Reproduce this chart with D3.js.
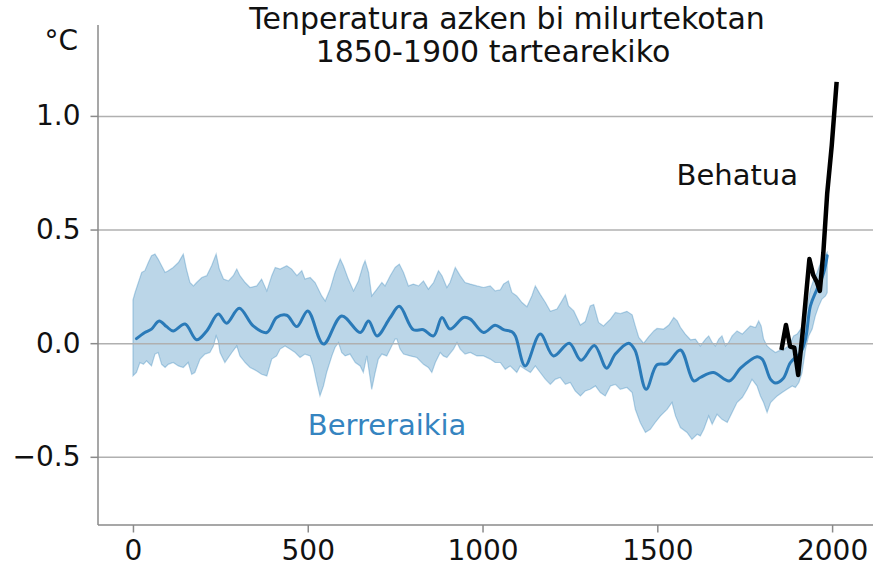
<!DOCTYPE html>
<html><head><meta charset="utf-8">
<script src="https://cdn.jsdelivr.net/npm/d3@7"></script>
<style>
html,body{margin:0;padding:0;background:#fff;}
text{font-family:"DejaVu Sans",sans-serif;}
</style></head>
<body><svg id="c" width="888" height="583"></svg>
<script>
// Reconstruction mean (year, °C)
const reconMean = [[10,0.02],[34,0.047],[53,0.062],[75,0.098],[96,0.073],[115,0.054],[149,0.084],[182,0.015],[211,0.054],[244,0.128],[268,0.088],[304,0.154],[344,0.076],[383,0.047],[411,0.113],[440,0.123],[469,0.073],[500,0.142],[545,-0.004],[597,0.12],[650,0.047],[674,0.098],[698,0.032],[736,0.113],[762,0.162],[802,0.059],[831,0.059],[860,0.032],[884,0.113],[907,0.062],[946,0.113],[965,0.106],[1003,0.047],[1036,0.079],[1060,0.06],[1084,0.05],[1094,0.032],[1122,-0.1],[1165,0.04],[1203,-0.056],[1248,0.0],[1282,-0.075],[1320,-0.01],[1355,-0.11],[1380,-0.048],[1418,0.0],[1436,-0.03],[1468,-0.203],[1499,-0.095],[1528,-0.09],[1566,-0.03],[1604,-0.166],[1623,-0.151],[1660,-0.129],[1706,-0.166],[1738,-0.11],[1785,-0.06],[1800,-0.07],[1824,-0.159],[1838,-0.175],[1860,-0.155],[1881,-0.085],[1910,-0.041],[1924,0.018],[1938,0.164],[1957,0.238],[1976,0.31],[1986,0.385]];

// Uncertainty band, upper edge
const bandUpper = [[0,0.19],[6,0.223],[25,0.311],[34,0.319],[44,0.355],[53,0.385],[63,0.392],[72,0.37],[82,0.341],[92,0.311],[101,0.319],[115,0.333],[130,0.355],[144,0.392],[153,0.326],[163,0.267],[173,0.252],[182,0.267],[197,0.289],[211,0.297],[225,0.341],[238,0.392],[247,0.326],[259,0.282],[273,0.274],[287,0.297],[297,0.326],[306,0.297],[321,0.267],[335,0.245],[354,0.252],[368,0.282],[383,0.23],[397,0.297],[407,0.333],[421,0.326],[440,0.341],[454,0.326],[469,0.297],[483,0.319],[492,0.282],[507,0.289],[521,0.267],[540,0.208],[550,0.186],[564,0.238],[578,0.311],[593,0.37],[602,0.341],[616,0.282],[631,0.23],[645,0.274],[658,0.341],[664,0.363],[674,0.311],[683,0.208],[698,0.238],[712,0.267],[721,0.252],[736,0.297],[750,0.333],[762,0.348],[774,0.311],[788,0.252],[802,0.26],[817,0.252],[831,0.274],[845,0.238],[860,0.267],[874,0.319],[884,0.297],[898,0.245],[907,0.267],[922,0.333],[936,0.297],[950,0.267],[965,0.26],[984,0.252],[1003,0.245],[1022,0.252],[1036,0.23],[1051,0.235],[1060,0.26],[1074,0.274],[1084,0.223],[1098,0.208],[1113,0.179],[1127,0.16],[1141,0.208],[1151,0.252],[1165,0.215],[1180,0.179],[1194,0.14],[1213,0.15],[1227,0.186],[1237,0.213],[1246,0.164],[1261,0.142],[1280,0.08],[1294,0.095],[1308,0.164],[1318,0.17],[1332,0.091],[1346,0.076],[1366,0.106],[1380,0.135],[1394,0.13],[1413,0.14],[1428,0.125],[1437,0.076],[1447,0.025],[1461,0.0],[1475,0.028],[1490,0.054],[1499,0.065],[1518,0.062],[1533,0.08],[1547,0.113],[1557,0.098],[1566,0.07],[1580,0.04],[1595,0.015],[1609,0.018],[1623,-0.012],[1638,0.018],[1647,0.032],[1657,0.003],[1666,-0.012],[1676,0.018],[1685,0.032],[1695,-0.012],[1704,0.003],[1714,0.032],[1728,0.054],[1743,0.04],[1757,0.062],[1766,0.076],[1781,0.069],[1790,0.098],[1797,0.076],[1804,0.018],[1814,-0.012],[1824,-0.026],[1838,-0.041],[1847,-0.034],[1862,-0.026],[1876,-0.012],[1890,0.032],[1900,0.04],[1910,0.062],[1919,0.091],[1929,0.164],[1938,0.238],[1948,0.282],[1957,0.311],[1971,0.37],[1986,0.4]];

// Uncertainty band, lower edge
const bandLower = [[0,-0.144],[10,-0.129],[20,-0.085],[30,-0.093],[39,-0.078],[53,-0.1],[63,-0.048],[72,-0.041],[82,-0.093],[92,-0.107],[101,-0.093],[115,-0.085],[130,-0.1],[144,-0.107],[158,-0.085],[168,-0.137],[177,-0.129],[192,-0.07],[206,-0.048],[220,-0.041],[230,-0.012],[238,0.032],[244,0.01],[249,-0.041],[263,-0.085],[283,-0.041],[297,-0.012],[306,-0.056],[321,-0.085],[335,-0.107],[354,-0.122],[368,-0.137],[383,-0.144],[397,-0.07],[411,-0.056],[421,-0.026],[435,-0.012],[449,-0.026],[464,-0.041],[478,-0.063],[492,-0.048],[507,-0.056],[516,-0.1],[526,-0.173],[535,-0.232],[545,-0.188],[554,-0.129],[569,-0.056],[578,-0.019],[588,0.003],[597,-0.041],[607,-0.056],[621,-0.048],[636,-0.085],[650,-0.1],[659,-0.129],[669,-0.056],[679,-0.159],[683,-0.203],[693,-0.129],[702,-0.07],[712,-0.048],[726,-0.056],[736,-0.026],[750,0.018],[755,0.018],[764,-0.026],[774,-0.048],[793,-0.056],[812,-0.063],[831,-0.093],[845,-0.107],[855,-0.129],[865,-0.085],[879,-0.041],[888,-0.056],[898,-0.063],[917,-0.026],[927,0.003],[936,-0.026],[950,-0.048],[965,-0.041],[984,-0.056],[1003,-0.056],[1022,-0.07],[1036,-0.085],[1051,-0.085],[1065,-0.115],[1079,-0.1],[1098,-0.129],[1108,-0.1],[1122,-0.115],[1137,-0.129],[1151,-0.1],[1165,-0.129],[1180,-0.159],[1194,-0.181],[1208,-0.159],[1222,-0.151],[1237,-0.181],[1251,-0.173],[1265,-0.21],[1280,-0.232],[1294,-0.21],[1308,-0.203],[1323,-0.188],[1337,-0.217],[1351,-0.232],[1366,-0.188],[1380,-0.181],[1394,-0.203],[1413,-0.195],[1428,-0.217],[1437,-0.291],[1451,-0.349],[1466,-0.393],[1480,-0.379],[1494,-0.349],[1509,-0.32],[1528,-0.291],[1542,-0.261],[1552,-0.32],[1566,-0.371],[1585,-0.393],[1599,-0.423],[1614,-0.401],[1623,-0.408],[1633,-0.379],[1647,-0.32],[1657,-0.357],[1671,-0.313],[1685,-0.335],[1700,-0.349],[1714,-0.305],[1728,-0.261],[1743,-0.239],[1757,-0.203],[1771,-0.159],[1785,-0.188],[1795,-0.232],[1804,-0.261],[1814,-0.305],[1824,-0.261],[1833,-0.247],[1843,-0.232],[1857,-0.217],[1871,-0.203],[1886,-0.188],[1895,-0.195],[1905,-0.173],[1914,-0.129],[1924,-0.026],[1933,0.032],[1943,0.062],[1952,0.12],[1962,0.164],[1971,0.194],[1981,0.208],[1986,0.223]];

// Observed (instrumental) record
const observed = [[1855,-0.03],[1868,0.08],[1880,-0.015],[1892,-0.02],[1903,-0.14],[1916,0.05],[1935,0.37],[1946,0.30],[1956,0.27],[1965,0.23],[1975,0.40],[1986,0.66],[1999,0.87],[2013,1.15]];

const xTicks = [0, 500, 1000, 1500, 2000];
const yTicks = [-0.5, 0.0, 0.5, 1.0];
const titleLines = ["Tenperatura azken bi milurtekotan", "1850-1900 tartearekiko"];
const yUnit = "°C";
const labelRecon = "Berreraikia";
const labelObs = "Behatua";

const svg = d3.select("#c");
const x = d3.scaleLinear().domain([-100, 2117]).range([98, 873]);
const y = d3.scaleLinear().domain([-0.8, 1.4]).range([525, 25]);

// band polygon (upper edge then lower edge reversed)
const poly = bandUpper.concat(bandLower.slice().reverse());
svg.append("path")
  .attr("d", d3.line().x(d => x(d[0])).y(d => y(d[1]))(poly) + "Z")
  .attr("fill", "#1f77b4").attr("fill-opacity", 0.3)
  .attr("stroke", "#1f77b4").attr("stroke-opacity", 0.3).attr("stroke-width", 1.2);

// grid
const gGrid = svg.append("g")
  .attr("transform", "translate(98,0)")
  .call(d3.axisLeft(y).tickValues(yTicks).tickSize(-775).tickFormat(""));
gGrid.select(".domain").remove();
gGrid.selectAll(".tick line").attr("stroke", "#b0b0b0").attr("stroke-width", 1.5);

// mean line
svg.append("path")
  .attr("d", d3.line().x(d => x(d[0])).y(d => y(d[1])).curve(d3.curveCatmullRom.alpha(0.5))(reconMean))
  .attr("fill", "none").attr("stroke", "#2a7ab8").attr("stroke-width", 3)
  .attr("stroke-linejoin", "round").attr("stroke-linecap", "round");

// observed line
svg.append("path")
  .attr("d", d3.line().x(d => x(d[0])).y(d => y(d[1]))(observed))
  .attr("fill", "none").attr("stroke", "#000").attr("stroke-width", 4.5)
  .attr("stroke-linejoin", "round").attr("stroke-linecap", "butt");

// axes
const fmt = d => (d < 0 ? "\u2212" : "") + Math.abs(d).toFixed(1);
const gy = svg.append("g").attr("transform", "translate(98,0)")
  .call(d3.axisLeft(y).tickValues(yTicks).tickSize(7.5).tickPadding(10).tickFormat(fmt));
gy.select(".domain").attr("stroke", "#8a8a8a").attr("stroke-width", 1.5).attr("d", "M0,25V525");
gy.selectAll(".tick line").attr("stroke", "#8a8a8a").attr("stroke-width", 1.5);
gy.selectAll(".tick text").attr("font-size", 28).attr("fill", "#111").attr("font-family", "DejaVu Sans");

const gx = svg.append("g").attr("transform", "translate(0,525)")
  .call(d3.axisBottom(x).tickValues(xTicks).tickSize(7.5).tickPadding(8).tickFormat(d3.format("d")));
gx.select(".domain").attr("stroke", "#8a8a8a").attr("stroke-width", 1.5).attr("d", "M98,0H873");
gx.selectAll(".tick line").attr("stroke", "#8a8a8a").attr("stroke-width", 1.5);
gx.selectAll(".tick text").attr("font-size", 28).attr("fill", "#111").attr("font-family", "DejaVu Sans");

// title
svg.append("text").attr("x", 507).attr("y", 28.5).attr("text-anchor", "middle")
  .attr("font-size", 30).attr("fill", "#111").text(titleLines[0]);
svg.append("text").attr("x", 493).attr("y", 62).attr("text-anchor", "middle")
  .attr("font-size", 30).attr("fill", "#111").text(titleLines[1]);

// unit
svg.append("text").attr("x", 78).attr("y", 49.5).attr("text-anchor", "end")
  .attr("font-size", 28).attr("fill", "#111").text(yUnit);

// labels
svg.append("text").attr("x", x(500)).attr("y", 435).attr("font-size", 29)
  .attr("fill", "#3584c0").text(labelRecon);
svg.append("text").attr("x", x(1555)).attr("y", 185).attr("font-size", 29)
  .attr("fill", "#111").text(labelObs);
</script></body></html>
